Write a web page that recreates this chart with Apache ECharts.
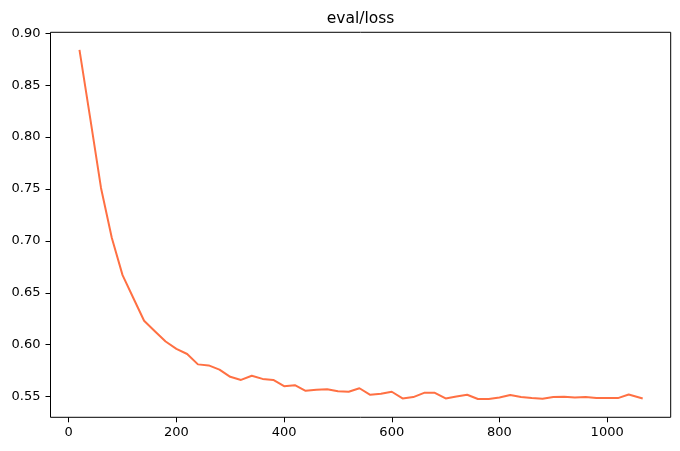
<!DOCTYPE html>
<html>
<head>
<meta charset="utf-8">
<script src="https://cdn.jsdelivr.net/npm/echarts@6/dist/echarts.min.js"></script>
<style>
  html, body { margin: 0; padding: 0; background: #fff; }
  #chart { width: 680px; height: 451px; }
</style>
</head>
<body>
<div id="chart"></div>
<script>
// eval steps and loss
const steps = [20, 40, 60, 80, 100, 120, 140, 160, 180, 200, 220, 240, 260, 280, 300, 320, 340, 360, 380, 400,
  420, 440, 460, 480, 500, 520, 540, 560, 580, 600, 620, 640, 660, 680, 700, 720, 740, 760, 780, 800,
  820, 840, 860, 880, 900, 920, 940, 960, 980, 1000, 1020, 1040, 1066]
const loss = [0.884, 0.818, 0.751, 0.703, 0.667, 0.645, 0.623, 0.613, 0.603, 0.596, 0.591, 0.581, 0.580, 0.576, 0.569, 0.566, 0.570, 0.567, 0.566, 0.560,
  0.561, 0.5555, 0.5565, 0.557, 0.555, 0.5546, 0.558, 0.5517, 0.5526, 0.5546, 0.5482, 0.5495, 0.5536, 0.5536, 0.5482, 0.550, 0.5517, 0.5476, 0.5476, 0.549,
  0.5514, 0.5495, 0.5485, 0.5478, 0.5495, 0.5498, 0.549, 0.5495, 0.5485, 0.5485, 0.5485, 0.552, 0.5482]

const xTicks = [0, 200, 400, 600, 800, 1000]
const yTicks = [0.55, 0.60, 0.65, 0.70, 0.75, 0.80, 0.85, 0.90]

const chart = echarts.init(document.getElementById('chart'))

const font = 'DejaVu Sans'

const option = {
  animation: false,
  title: {
    text: 'eval/loss',
    left: 360.6,
    top: 11,
    padding: 0,
    textAlign: 'center',
    textStyle: { fontFamily: font, fontSize: 15.5, fontWeight: 'normal', color: '#000' }
  },
  grid: {
    left: 50.5,
    right: 9.3,
    top: 32.3,
    bottom: 33.7,
    show: true,
    borderColor: '#000',
    borderWidth: 1
  },
  xAxis: {
    type: 'value',
    min: -33.8,
    max: 1118,
    axisLine: { show: false, onZero: false },
    splitLine: { show: false },
    axisTick: { show: true, length: 5, lineStyle: { color: '#000' }, customValues: xTicks },
    axisLabel: {
      customValues: xTicks,
      margin: 9,
      fontFamily: font,
      fontSize: 13,
      color: '#000',
      formatter: v => String(v)
    }
  },
  yAxis: {
    type: 'value',
    min: 0.53,
    max: 0.901,
    axisLine: { show: false, onZero: false },
    splitLine: { show: false },
    axisTick: { show: true, length: 5, lineStyle: { color: '#000' }, customValues: yTicks },
    axisLabel: {
      customValues: yTicks,
      margin: 10,
      fontFamily: font,
      fontSize: 13,
      color: '#000',
      formatter: v => v.toFixed(2)
    }
  },
  series: [
    {
      type: 'line',
      data: steps.map((s, i) => [s, loss[i]]),
      showSymbol: false,
      smooth: false,
      lineStyle: { width: 2, color: '#ff7043' }
    }
  ]
}

chart.setOption(option)
</script>
</body>
</html>
